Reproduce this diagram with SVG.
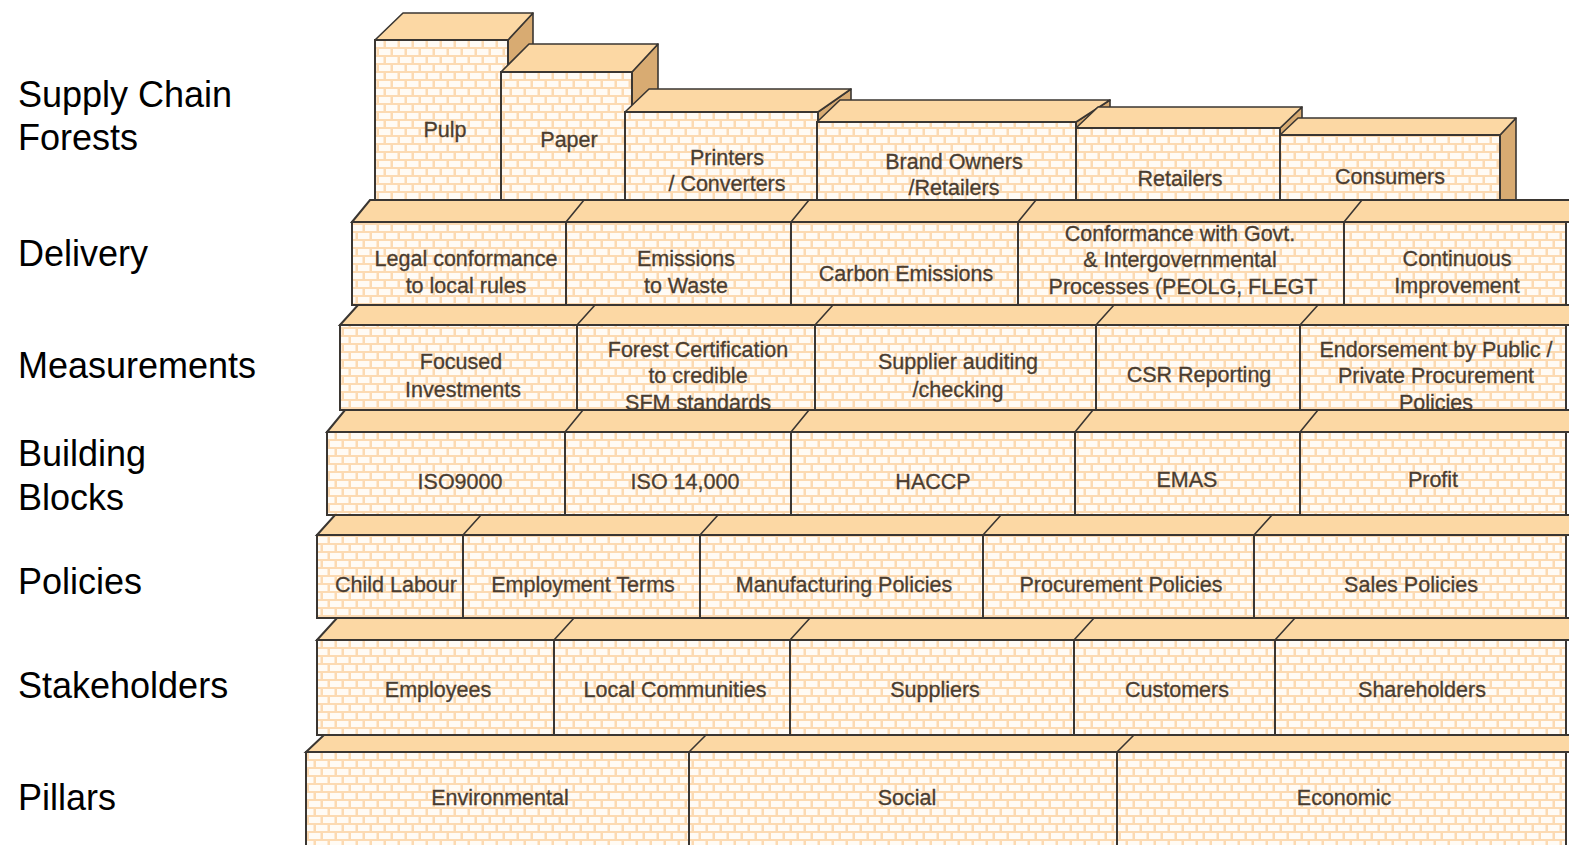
<svg xmlns="http://www.w3.org/2000/svg" width="1569" height="845" viewBox="0 0 1569 845">
  <defs>
    <!-- brick texture for front faces -->
    <pattern id="brick" width="14" height="16" patternUnits="userSpaceOnUse">
      <rect width="14" height="16" fill="#fcdab2"/>
      <rect x="1" y="1" width="11.5" height="6" fill="#fffbf5"/>
      <rect x="-6" y="9" width="11.5" height="6" fill="#fffbf5"/>
      <rect x="8" y="9" width="11.5" height="6" fill="#fffbf5"/>
    </pattern>
    <style>
      .face { fill: url(#brick); stroke: #3a3632; stroke-width: 2; }
      .top { fill: #fcd8a4; stroke: #3a3632; stroke-width: 1.6; stroke-linejoin: round; }
      .side { fill: #d8ab72; stroke: #3a3632; stroke-width: 1.6; stroke-linejoin: round; }
      .strip { fill: #fcd8a4; stroke: #3a3632; stroke-width: 2; }
      .div { stroke: #3a3632; stroke-width: 1.6; fill: none; }
      .lbl { font-family: "Liberation Sans", Arial, sans-serif; font-size: 21.5px; fill: #4a3d31; text-anchor: middle; stroke: #4a3d31; stroke-width: 0.3; }
      .row { font-family: "Liberation Sans", Arial, sans-serif; font-size: 36px; fill: #000; }
    </style>
  </defs>

  <rect width="1569" height="845" fill="#fff"/>

  <!-- row captions -->
  <g id="captions">
    <text class="row" x="18" y="107">Supply Chain</text>
    <text class="row" x="18" y="150">Forests</text>
    <text class="row" x="18" y="266">Delivery</text>
    <text class="row" x="18" y="378">Measurements</text>
    <text class="row" x="18" y="466">Building</text>
    <text class="row" x="18" y="510">Blocks</text>
    <text class="row" x="18" y="594">Policies</text>
    <text class="row" x="18" y="698">Stakeholders</text>
    <text class="row" x="18" y="810">Pillars</text>
  </g>

  <!-- top tier: supply chain boxes, drawn left to right -->
  <g id="tier-supply">
    <g id="pulp">
      <polygon class="side" points="508,40 533,13 533,200 508,200"/>
      <polygon class="top" points="375,40 403,13 533,13 508,40"/>
      <rect class="face" x="375" y="40" width="133" height="160"/>
      <text class="lbl" x="445" y="137">Pulp</text>
    </g>
    <g id="paper">
      <polygon class="side" points="632,72 658,44 658,200 632,200"/>
      <polygon class="top" points="501,72 529,44 658,44 632,72"/>
      <rect class="face" x="501" y="72" width="131" height="128"/>
      <text class="lbl" x="569" y="147">Paper</text>
    </g>
    <g id="printers">
      <polygon class="side" points="818,112 851,89 851,200 818,200"/>
      <polygon class="top" points="625,112 649,89 851,89 818,112"/>
      <rect class="face" x="625" y="112" width="193" height="88"/>
      <text class="lbl" x="727" y="165">Printers<tspan x="727" dy="26">/ Converters</tspan></text>
    </g>
    <g id="brand-owners">
      <polygon class="side" points="1076,122 1110,100 1110,200 1076,200"/>
      <polygon class="top" points="817,122 840,100 1110,100 1076,122"/>
      <rect class="face" x="817" y="122" width="259" height="78"/>
      <text class="lbl" x="954" y="169">Brand Owners<tspan x="954" dy="26">/Retailers</tspan></text>
    </g>
    <g id="retailers">
      <polygon class="side" points="1280,128 1302,107 1302,200 1280,200"/>
      <polygon class="top" points="1076,128 1098,107 1302,107 1280,128"/>
      <rect class="face" x="1076" y="128" width="204" height="72"/>
      <text class="lbl" x="1180" y="186">Retailers</text>
    </g>
    <g id="consumers">
      <polygon class="side" points="1500,135 1516,118 1516,200 1500,200"/>
      <polygon class="top" points="1280,135 1298,118 1516,118 1500,135"/>
      <rect class="face" x="1280" y="135" width="220" height="65"/>
      <text class="lbl" x="1390" y="184">Consumers</text>
    </g>
  </g>

  <!-- delivery tier -->
  <g id="tier-delivery">
    <polygon class="strip" points="352,222 370,200 1571,200 1571,222"/>
    <path class="div" d="M566,222 L584,200 M791,222 L809,200 M1018,222 L1036,200 M1344,222 L1362,200"/>
    <g id="legal-conformance">
      <rect class="face" x="352" y="222" width="214" height="83"/>
      <text class="lbl" x="466" y="266">Legal conformance<tspan x="466" dy="27">to local rules</tspan></text>
    </g>
    <g id="emissions-waste">
      <rect class="face" x="566" y="222" width="225" height="83"/>
      <text class="lbl" x="686" y="266">Emissions<tspan x="686" dy="27">to Waste</tspan></text>
    </g>
    <g id="carbon-emissions">
      <rect class="face" x="791" y="222" width="227" height="83"/>
      <text class="lbl" x="906" y="281">Carbon Emissions</text>
    </g>
    <g id="govt-conformance">
      <rect class="face" x="1018" y="222" width="326" height="83"/>
      <text class="lbl" x="1180" y="241">Conformance with Govt.<tspan x="1180" dy="26">&amp; Intergovernmental</tspan><tspan x="1183" dy="27">Processes (PEOLG, FLEGT</tspan></text>
    </g>
    <g id="continuous-improvement">
      <rect class="face" x="1344" y="222" width="222" height="83"/>
      <text class="lbl" x="1457" y="266">Continuous<tspan x="1457" dy="27">Improvement</tspan></text>
    </g>
  </g>

  <!-- measurements tier -->
  <g id="tier-measurements">
    <polygon class="strip" points="340,325 358,305 1571,305 1571,325"/>
    <path class="div" d="M577,325 L595,305 M815,325 L833,305 M1096,325 L1114,305 M1300,325 L1318,305"/>
    <g id="focused-investments">
      <rect class="face" x="340" y="325" width="237" height="85"/>
      <text class="lbl" x="461" y="369">Focused<tspan x="463" dy="28">Investments</tspan></text>
    </g>
    <g id="forest-certification">
      <rect class="face" x="577" y="325" width="238" height="85"/>
      <text class="lbl" x="698" y="357">Forest Certification<tspan x="698" dy="26">to credible</tspan><tspan x="698" dy="27">SFM standards</tspan></text>
    </g>
    <g id="supplier-auditing">
      <rect class="face" x="815" y="325" width="281" height="85"/>
      <text class="lbl" x="958" y="369">Supplier auditing<tspan x="958" dy="28">/checking</tspan></text>
    </g>
    <g id="csr-reporting">
      <rect class="face" x="1096" y="325" width="204" height="85"/>
      <text class="lbl" x="1199" y="382">CSR Reporting</text>
    </g>
    <g id="endorsement">
      <rect class="face" x="1300" y="325" width="266" height="85"/>
      <text class="lbl" x="1436" y="357">Endorsement by Public /<tspan x="1436" dy="26">Private Procurement</tspan><tspan x="1436" dy="27">Policies</tspan></text>
    </g>
  </g>

  <!-- building blocks tier -->
  <g id="tier-building">
    <polygon class="strip" points="327,432 345,410 1571,410 1571,432"/>
    <path class="div" d="M565,432 L583,410 M791,432 L809,410 M1075,432 L1093,410 M1300,432 L1318,410"/>
    <g id="iso9000">
      <rect class="face" x="327" y="432" width="238" height="83"/>
      <text class="lbl" x="460" y="489">ISO9000</text>
    </g>
    <g id="iso14000">
      <rect class="face" x="565" y="432" width="226" height="83"/>
      <text class="lbl" x="685" y="489">ISO 14,000</text>
    </g>
    <g id="haccp">
      <rect class="face" x="791" y="432" width="284" height="83"/>
      <text class="lbl" x="933" y="489">HACCP</text>
    </g>
    <g id="emas">
      <rect class="face" x="1075" y="432" width="225" height="83"/>
      <text class="lbl" x="1187" y="487">EMAS</text>
    </g>
    <g id="profit">
      <rect class="face" x="1300" y="432" width="266" height="83"/>
      <text class="lbl" x="1433" y="487">Profit</text>
    </g>
  </g>

  <!-- policies tier -->
  <g id="tier-policies">
    <polygon class="strip" points="317,535 335,515 1571,515 1571,535"/>
    <path class="div" d="M463,535 L481,515 M700,535 L718,515 M983,535 L1001,515 M1254,535 L1272,515"/>
    <g id="child-labour">
      <rect class="face" x="317" y="535" width="146" height="83"/>
      <text class="lbl" x="396" y="592">Child Labour</text>
    </g>
    <g id="employment-terms">
      <rect class="face" x="463" y="535" width="237" height="83"/>
      <text class="lbl" x="583" y="592">Employment Terms</text>
    </g>
    <g id="manufacturing-policies">
      <rect class="face" x="700" y="535" width="283" height="83"/>
      <text class="lbl" x="844" y="592">Manufacturing Policies</text>
    </g>
    <g id="procurement-policies">
      <rect class="face" x="983" y="535" width="271" height="83"/>
      <text class="lbl" x="1121" y="592">Procurement Policies</text>
    </g>
    <g id="sales-policies">
      <rect class="face" x="1254" y="535" width="312" height="83"/>
      <text class="lbl" x="1411" y="592">Sales Policies</text>
    </g>
  </g>

  <!-- stakeholders tier -->
  <g id="tier-stakeholders">
    <polygon class="strip" points="317,640 337,618 1571,618 1571,640"/>
    <path class="div" d="M554,640 L574,618 M790,640 L810,618 M1074,640 L1094,618 M1275,640 L1295,618"/>
    <g id="employees">
      <rect class="face" x="317" y="640" width="237" height="95"/>
      <text class="lbl" x="438" y="697">Employees</text>
    </g>
    <g id="local-communities">
      <rect class="face" x="554" y="640" width="236" height="95"/>
      <text class="lbl" x="675" y="697">Local Communities</text>
    </g>
    <g id="suppliers">
      <rect class="face" x="790" y="640" width="284" height="95"/>
      <text class="lbl" x="935" y="697">Suppliers</text>
    </g>
    <g id="customers">
      <rect class="face" x="1074" y="640" width="201" height="95"/>
      <text class="lbl" x="1177" y="697">Customers</text>
    </g>
    <g id="shareholders">
      <rect class="face" x="1275" y="640" width="291" height="95"/>
      <text class="lbl" x="1422" y="697">Shareholders</text>
    </g>
  </g>

  <!-- pillars tier -->
  <g id="tier-pillars">
    <polygon class="strip" points="306,752 324,735 1571,735 1571,752"/>
    <path class="div" d="M689,752 L706,735 M1117,752 L1134,735"/>
    <g id="environmental">
      <rect class="face" x="306" y="752" width="383" height="100"/>
      <text class="lbl" x="500" y="805">Environmental</text>
    </g>
    <g id="social">
      <rect class="face" x="689" y="752" width="428" height="100"/>
      <text class="lbl" x="907" y="805">Social</text>
    </g>
    <g id="economic">
      <rect class="face" x="1117" y="752" width="449" height="100"/>
      <text class="lbl" x="1344" y="805">Economic</text>
    </g>
  </g>
</svg>
